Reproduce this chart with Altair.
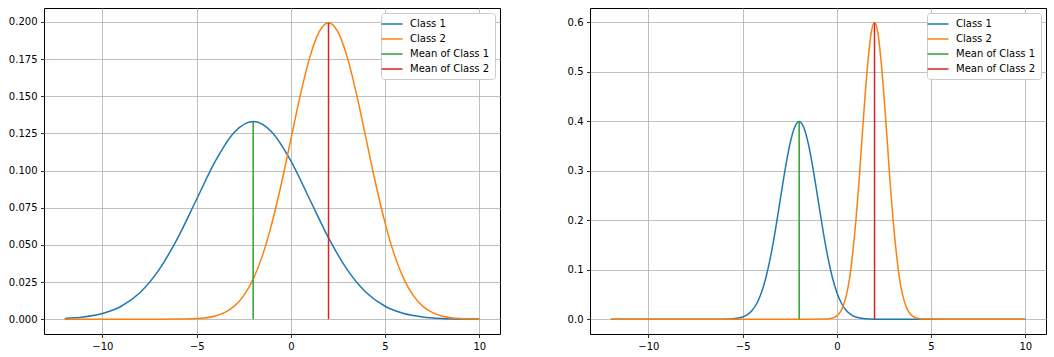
import altair as alt
import pandas as pd

SERIES = ["Class 1", "Class 2", "Mean of Class 1", "Mean of Class 2"]
COLORS = ["#1f77b4", "#ff7f0e", "#2ca02c", "#d62728"]

# Left panel curves
L1_X = list(range(-12, 11))
L1_Y = [0.00051, 0.00148, 0.0038, 0.0087, 0.0180, 0.0332, 0.0547, 0.0807, 0.1065,
        0.1258, 0.1330, 0.1258, 0.1065, 0.0807, 0.0547, 0.0332, 0.0180, 0.0087,
        0.0038, 0.0015, 0.0005, 0.00016, 0.00004]
L2_X = [-12, -8, -7, -6, -5, -4, -3.5, -3, -2.5, -2, -1.5, -1, -0.5, 0, 0.5, 1, 1.5,
        2, 2.5, 3, 3.5, 4, 4.5, 5, 5.5, 6, 6.5, 7, 7.5, 8, 9, 10]
L2_Y = [0, 0, 0.00001, 0.00007, 0.00044, 0.0022, 0.00455, 0.0088, 0.0159, 0.0270,
        0.0431, 0.0648, 0.0913, 0.1210, 0.1506, 0.1760, 0.1933, 0.1995, 0.1933,
        0.1760, 0.1506, 0.1210, 0.0913, 0.0648, 0.0431, 0.0270, 0.0159, 0.0088,
        0.00455, 0.0022, 0.00044, 0.00007]

# Right panel curves
R1_X = [-12, -7, -6, -5.5, -5, -4.75, -4.5, -4.25, -4, -3.75, -3.5, -3.25, -3, -2.75,
        -2.5, -2.25, -2, -1.75, -1.5, -1.25, -1, -0.75, -0.5, -0.25, 0, 0.25, 0.5,
        0.75, 1, 1.5, 2, 3, 10]
R1_Y = [0, 0, 0.00013, 0.00087, 0.0044, 0.0091, 0.0175, 0.0317, 0.0540, 0.0863,
        0.1295, 0.1826, 0.2420, 0.3011, 0.3521, 0.3867, 0.3989, 0.3867, 0.3521,
        0.3011, 0.2420, 0.1826, 0.1295, 0.0863, 0.0540, 0.0317, 0.0175, 0.0091,
        0.0044, 0.00087, 0.00013, 0, 0]
R2_X = [-12, -2, -0.67, -0.33, 0, 0.17, 0.33, 0.5, 0.67, 0.83, 1.0, 1.17, 1.33, 1.5,
        1.67, 1.83, 2.0, 2.17, 2.33, 2.5, 2.67, 2.83, 3.0, 3.17, 3.33, 3.5, 3.67,
        3.83, 4.0, 4.33, 4.67, 6, 10]
R2_Y = [0, 0, 0.0002, 0.00131, 0.00665, 0.0136, 0.0263, 0.0476, 0.0810, 0.1294,
        0.1943, 0.2739, 0.3629, 0.4517, 0.5281, 0.5800, 0.5984, 0.5800, 0.5281,
        0.4517, 0.3629, 0.2739, 0.1943, 0.1294, 0.0810, 0.0476, 0.0263, 0.0136,
        0.00665, 0.00131, 0.0002, 0, 0]

MEAN_NAMES = ["Mean of Class 1", "Mean of Class 2"]
MEAN_X = [-2, 2]
LEFT_MEAN_TOP = [0.1330, 0.1995]
RIGHT_MEAN_TOP = [0.3989, 0.5984]

LEFT_Y_TICKS = [0, 0.025, 0.05, 0.075, 0.1, 0.125, 0.15, 0.175, 0.2]
RIGHT_Y_TICKS = [0, 0.1, 0.2, 0.3, 0.4, 0.5, 0.6]
X_TICKS = [-10, -5, 0, 5, 10]


def curves(x1, y1, x2, y2):
    a = pd.DataFrame({"x": x1, "y": y1, "series": "Class 1"})
    b = pd.DataFrame({"x": x2, "y": y2, "series": "Class 2"})
    return pd.concat([a, b], ignore_index=True)


def means(tops):
    return pd.DataFrame({"x": MEAN_X, "y0": [0, 0], "y1": tops, "series": MEAN_NAMES})


def panel(cdf, mdf, ydom, yticks, fmt):
    xs = alt.Scale(domain=[-13.1, 11.1], nice=False, zero=False)
    ys = alt.Scale(domain=ydom, nice=False, zero=False)
    color = alt.Color(
        "series:N",
        scale=alt.Scale(domain=SERIES, range=COLORS),
        legend=alt.Legend(title=None, orient="top-right"),
        sort=SERIES,
    )
    xa = alt.Axis(values=X_TICKS, title=None, format="d")
    ya = alt.Axis(values=yticks, title=None, format=fmt)
    lines = alt.Chart(cdf).mark_line(strokeWidth=1.5, interpolate="monotone").encode(
        x=alt.X("x:Q", scale=xs, axis=xa),
        y=alt.Y("y:Q", scale=ys, axis=ya),
        color=color,
        detail="series:N",
    )
    rules = alt.Chart(mdf).mark_rule(strokeWidth=1.5).encode(
        x=alt.X("x:Q", scale=xs),
        y=alt.Y("y0:Q", scale=ys),
        y2="y1:Q",
        color=color,
    )
    return alt.layer(lines, rules).properties(width=456, height=326)


left = panel(curves(L1_X, L1_Y, L2_X, L2_Y), means(LEFT_MEAN_TOP),
             [-0.00997, 0.2094], LEFT_Y_TICKS, ".3f")
right = panel(curves(R1_X, R1_Y, R2_X, R2_Y), means(RIGHT_MEAN_TOP),
              [-0.0299, 0.6283], RIGHT_Y_TICKS, ".1f")

chart = alt.hconcat(left, right, spacing=65).resolve_scale(color="independent").properties(
    padding={"left": 7, "top": 7, "right": 5, "bottom": 2},
    background="white",
).configure_view(
    stroke="black", strokeWidth=1
).configure_axis(
    domain=False,
    grid=True,
    gridColor="#b0b0b0",
    gridWidth=0.8,
    tickColor="black",
    tickSize=3.5,
    tickWidth=0.8,
    labelColor="black",
    labelFont="DejaVu Sans",
    labelFontSize=10,
    labelPadding=3.5,
).configure_legend(
    labelFont="DejaVu Sans",
    labelFontSize=10,
    labelColor="black",
    symbolType="M-2,0H2",
    symbolSize=110,
    symbolStrokeWidth=1.5,
    symbolFillColor="transparent",
    fillColor="white",
    strokeColor="#cccccc",
    cornerRadius=3,
    padding=5,
    offset=5,
    rowPadding=4,
    labelOffset=12,
)

chart.save("out.html", embed_options={"renderer": "svg", "actions": False})
